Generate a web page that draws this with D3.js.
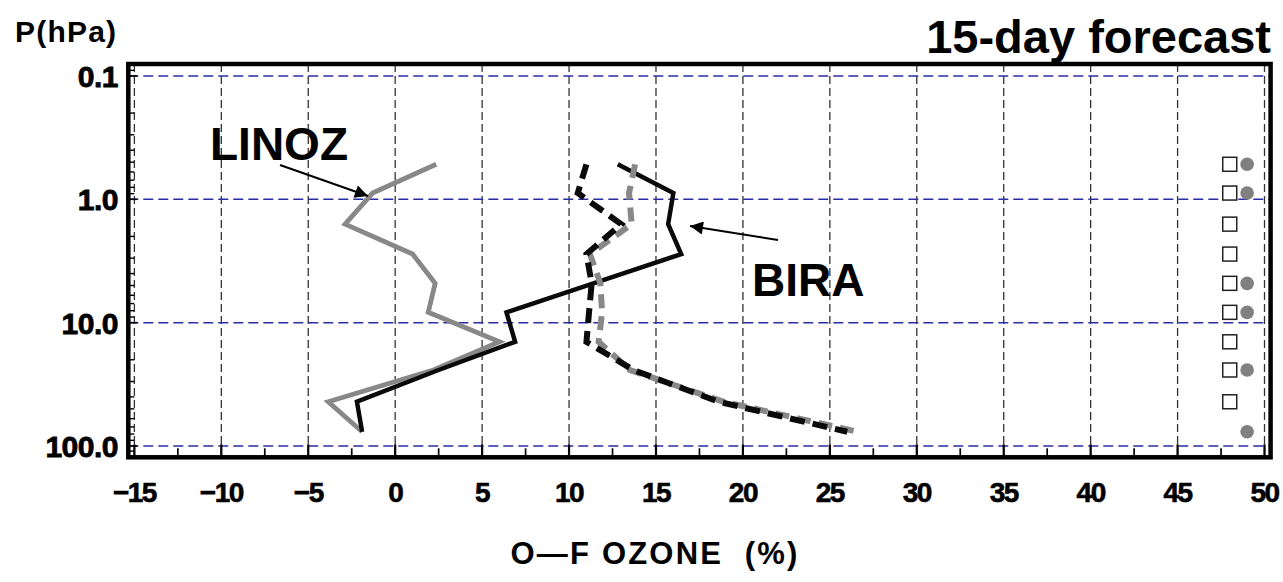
<!DOCTYPE html>
<html>
<head>
<meta charset="utf-8">
<script src="https://cdn.jsdelivr.net/npm/d3@7"></script>
<style>
  html, body { margin: 0; padding: 0; background: #fff; }
  svg { display: block; }
  text { font-family: "Liberation Sans", Arial, Helvetica, sans-serif; font-weight: bold; fill: #000; }
</style>
</head>
<body>
<svg id="chart" width="1283" height="582"></svg>
<script>
// Pressure levels (hPa) of the profile layers
const levels = [0.52, 0.89, 1.59, 2.78, 4.8, 8.25, 14.3, 24.2, 43.8, 76.7];

// O-F ozone departures (%) per layer
const linozSolid  = [2.36, -1.3, -2.88, 1.0, 2.3, 1.9, 6.0, 2.2, -3.85, -1.9];
const biraSolid   = [12.8, 16.0, 15.7, 16.45, 11.4, 6.4, 6.9, 2.5, -2.2, -1.9];
const linozDashed = [13.8, 13.45, 13.6, 11.2, 11.8, 11.9, 11.7, 13.5, 18.9, 26.6];
const biraDashed  = [11.0, 10.5, 13.0, 11.0, 11.3, 11.15, 11.0, 13.7, 18.6, 26.0];

// Layer flags shown in the right-hand column
const squareFlags = [1, 1, 1, 1, 1, 1, 1, 1, 1, 0];
const circleFlags = [1, 1, 0, 0, 1, 1, 0, 1, 0, 1];

// Axis ticks
const xTicks = [-15, -10, -5, 0, 5, 10, 15, 20, 25, 30, 35, 40, 45, 50];
const yTicks = [0.1, 1, 10, 100];
const yTickLabels = ["0.1", "1.0", "10.0", "100.0"];

const svg = d3.select("#chart");

const x = d3.scaleLinear().domain([-15.35, 50.35]).range([128.3, 1270.6]);
const y = d3.scaleLog().domain([0.08, 123.5]).range([64, 457.3]);

const [x0, x1] = x.range();
const [y0, y1] = y.range();

// Grid: vertical dashed at major x ticks, blue dashed at pressure decades
svg.append("g").selectAll("line").data(xTicks).join("line")
  .attr("x1", d => x(d)).attr("x2", d => x(d))
  .attr("y1", y0).attr("y2", y1)
  .attr("stroke", "#333").attr("stroke-width", 1.3)
  .attr("stroke-dasharray", "8 4");

svg.append("g").selectAll("line").data(yTicks).join("line")
  .attr("x1", x0).attr("x2", x1)
  .attr("y1", d => y(d)).attr("y2", d => y(d))
  .attr("stroke", "#2b2ba6").attr("stroke-width", 1.5)
  .attr("stroke-dasharray", "10 5");

// Inner ticks on the bottom axis (major and half-step minor)
const xMinor = d3.range(-12.5, 50, 5);
svg.append("g").selectAll("line").data(xTicks).join("line")
  .attr("x1", d => x(d)).attr("x2", d => x(d))
  .attr("y1", y1).attr("y2", y1 - 13)
  .attr("stroke", "#000").attr("stroke-width", 2.2);
svg.append("g").selectAll("line").data(xMinor).join("line")
  .attr("x1", d => x(d)).attr("x2", d => x(d))
  .attr("y1", y1).attr("y2", y1 - 9)
  .attr("stroke", "#000").attr("stroke-width", 1.7);

// Inner log ticks on the left axis
const yMinor = [];
[0.1, 1, 10].forEach(dec => { for (let k = 2; k <= 9; k++) yMinor.push(dec * k); });
[0.09, 110, 120].forEach(v => yMinor.push(v));
svg.append("g").selectAll("line").data(yMinor).join("line")
  .attr("x1", x0).attr("x2", x0 + 6)
  .attr("y1", d => y(d)).attr("y2", d => y(d))
  .attr("stroke", "#000").attr("stroke-width", 1.4);
svg.append("g").selectAll("line").data(yTicks).join("line")
  .attr("x1", x0).attr("x2", x0 + 9)
  .attr("y1", d => y(d)).attr("y2", d => y(d))
  .attr("stroke", "#000").attr("stroke-width", 1.6);

// Profiles
const line = d3.line().x(d => x(d[0])).y(d => y(d[1]));
const profile = vals => vals.map((v, i) => [v, levels[i]]);

function drawProfile(vals, color, width, dash) {
  const p = svg.append("path")
    .attr("d", line(profile(vals)))
    .attr("fill", "none")
    .attr("stroke", color)
    .attr("stroke-width", width)
    .attr("stroke-linejoin", "miter");
  if (dash) p.attr("stroke-dasharray", dash);
}
drawProfile(linozSolid, "#888", 4.8, null);
drawProfile(biraSolid, "#0a0a0a", 4.5, null);
drawProfile(linozDashed, "#888", 6, "14 8");
drawProfile(biraDashed, "#0a0a0a", 6, "15 8");

// Flag column
const squareX = 48.0, circleX = 49.0;
svg.append("g").selectAll("rect").data(levels.filter((d, i) => squareFlags[i])).join("rect")
  .attr("x", d => x(squareX) - 7).attr("y", d => y(d) - 7)
  .attr("width", 14).attr("height", 14)
  .attr("fill", "#fff").attr("stroke", "#222").attr("stroke-width", 1.5);
svg.append("g").selectAll("circle").data(levels.filter((d, i) => circleFlags[i])).join("circle")
  .attr("cx", x(circleX)).attr("cy", d => y(d))
  .attr("r", 6.8).attr("fill", "#808080");

// Frame
svg.append("rect")
  .attr("x", x0).attr("y", y0)
  .attr("width", x1 - x0).attr("height", y1 - y0)
  .attr("fill", "none").attr("stroke", "#000").attr("stroke-width", 4.5);

// Tick labels
svg.append("g").selectAll("text").data(xTicks).join("text")
  .attr("x", d => x(d)).attr("y", 502)
  .attr("text-anchor", "middle")
  .attr("font-size", 28).attr("letter-spacing", -1.5)
  .attr("stroke", "#000").attr("stroke-width", 0.6)
  .text(d => d < 0 ? "\u2212" + Math.abs(d) : String(d));

svg.append("g").selectAll("text").data(yTicks).join("text")
  .attr("x", 118).attr("y", d => y(d) + 11)
  .attr("text-anchor", "end")
  .attr("font-size", 30).attr("letter-spacing", -0.5)
  .attr("stroke", "#000").attr("stroke-width", 0.8)
  .text((d, i) => yTickLabels[i]);

// Titles and annotations
svg.append("text").attr("x", 15).attr("y", 42)
  .attr("font-size", 30).attr("letter-spacing", 1.2).text("P(hPa)");

svg.append("text").attr("x", 1271).attr("y", 53)
  .attr("text-anchor", "end").attr("font-size", 47).text("15-day forecast");

svg.append("text").attr("x", 655).attr("y", 564)
  .attr("text-anchor", "middle").attr("font-size", 31).attr("letter-spacing", 2.2)
  .attr("xml:space", "preserve").text("O\u2014F OZONE  (%)");

svg.append("text").attr("x", 210).attr("y", 160)
  .attr("font-size", 46).text("LINOZ");
svg.append("text").attr("x", 752).attr("y", 296)
  .attr("font-size", 46).text("BIRA");

// Arrows pointing from the labels to their profiles
const defs = svg.append("defs");
defs.append("marker")
  .attr("id", "head").attr("viewBox", "0 0 10 10")
  .attr("refX", 10).attr("refY", 5)
  .attr("markerWidth", 18).attr("markerHeight", 13)
  .attr("markerUnits", "userSpaceOnUse")
  .attr("orient", "auto")
  .append("path").attr("d", "M0,0 L10,5 L0,10 Z").attr("fill", "#000");

svg.append("line")
  .attr("x1", 280).attr("y1", 165).attr("x2", 368).attr("y2", 196)
  .attr("stroke", "#000").attr("stroke-width", 2)
  .attr("marker-end", "url(#head)");
svg.append("line")
  .attr("x1", 778).attr("y1", 240).attr("x2", 690).attr("y2", 226)
  .attr("stroke", "#000").attr("stroke-width", 2)
  .attr("marker-end", "url(#head)");
</script>
</body>
</html>
